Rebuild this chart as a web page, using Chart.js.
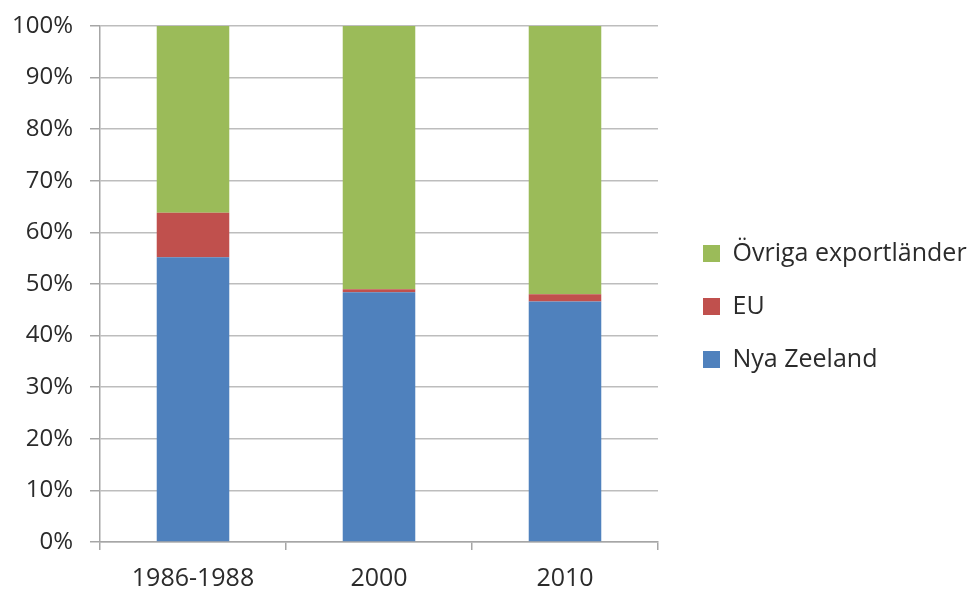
<!DOCTYPE html>
<html>
<head>
<meta charset="utf-8">
<script src="https://cdn.jsdelivr.net/npm/chart.js@4"></script>
<style>
  html, body { margin: 0; padding: 0; background: #fff; }
  #wrap { width: 967px; height: 592px; }
</style>
</head>
<body>
<div id="wrap"><canvas id="chart" width="967" height="592"></canvas></div>
<script>
const categories = ['1986-1988', '2000', '2010'];
const nyaZeeland = [55.2, 48.4, 46.6];
const eu = [8.6, 0.6, 1.4];
const ovriga = [36.2, 51.0, 52.0];
const yTicks = [0, 10, 20, 30, 40, 50, 60, 70, 80, 90, 100];

const FONT = "'Open Sans', sans-serif";
const TEXT = '#2b2b2b';
const gridGrey = '#bdbdbd';
const axisGrey = '#a6a6a6';

Chart.defaults.color = TEXT;
Chart.defaults.font.family = FONT;

// legend sits a bit away from the plot, like the original
const legendPlace = {
    id: 'legendPlace',
    beforeInit(chart) {
        const fit = chart.legend.fit;
        chart.legend.fit = function () {
            fit.call(this);
            this.width = 309;
        };
    },
    afterLayout(chart) {
        const lg = chart.legend;
        lg.left += 17;
        lg.right += 17;
    }
};

function draw() {
    const ctx = document.getElementById('chart').getContext('2d');

    new Chart(ctx, {
        type: 'bar',
        data: {
            labels: categories,
            datasets: [
                { label: 'Nya Zeeland', data: nyaZeeland, backgroundColor: '#4f81bd' },
                { label: 'EU', data: eu, backgroundColor: '#c0504d' },
                { label: 'Övriga exportländer', data: ovriga, backgroundColor: '#9bbb59' }
            ]
        },
        options: {
            responsive: false,
            animation: false,
            layout: {
                padding: { top: 26, left: 11, right: 0, bottom: 5 }
            },
            datasets: {
                bar: {
                    categoryPercentage: 1,
                    barPercentage: 0.39,
                    borderWidth: 0
                }
            },
            plugins: {
                legend: {
                    position: 'right',
                    reverse: true,
                    labels: {
                        boxWidth: 17,
                        boxHeight: 17,
                        padding: 28,
                        color: TEXT,
                        font: { family: FONT, size: 25 }
                    }
                },
                tooltip: { enabled: false }
            },
            scales: {
                x: {
                    stacked: true,
                    afterFit: s => { s.height = 45; },
                    grid: {
                        offset: true,
                        drawOnChartArea: false,
                        tickLength: 8,
                        tickColor: axisGrey,
                        lineWidth: 1.5
                    },
                    border: { color: axisGrey, width: 1.5 },
                    ticks: {
                        padding: 14,
                        font: { family: FONT, size: 25 }
                    }
                },
                y: {
                    stacked: true,
                    min: 0,
                    max: 100,
                    afterBuildTicks: axis => {
                        axis.ticks = yTicks.map(v => ({ value: v }));
                    },
                    afterFit: s => {
                        s.width = 89;
                        s.paddingTop = 0;
                    },
                    grid: {
                        color: gridGrey,
                        lineWidth: 1.5,
                        tickLength: 10,
                        tickColor: axisGrey
                    },
                    border: { color: axisGrey, width: 1.5 },
                    ticks: {
                        padding: 17,
                        font: { family: FONT, size: 24 },
                        callback: v => v + '%'
                    }
                }
            }
        },
        plugins: [legendPlace]
    });
}

// make sure the font is there before Chart.js measures the labels
Promise.all([
    document.fonts.load("24px 'Open Sans'"),
    document.fonts.load("25px 'Open Sans'")
]).then(draw, draw);
</script>
</body>
</html>
